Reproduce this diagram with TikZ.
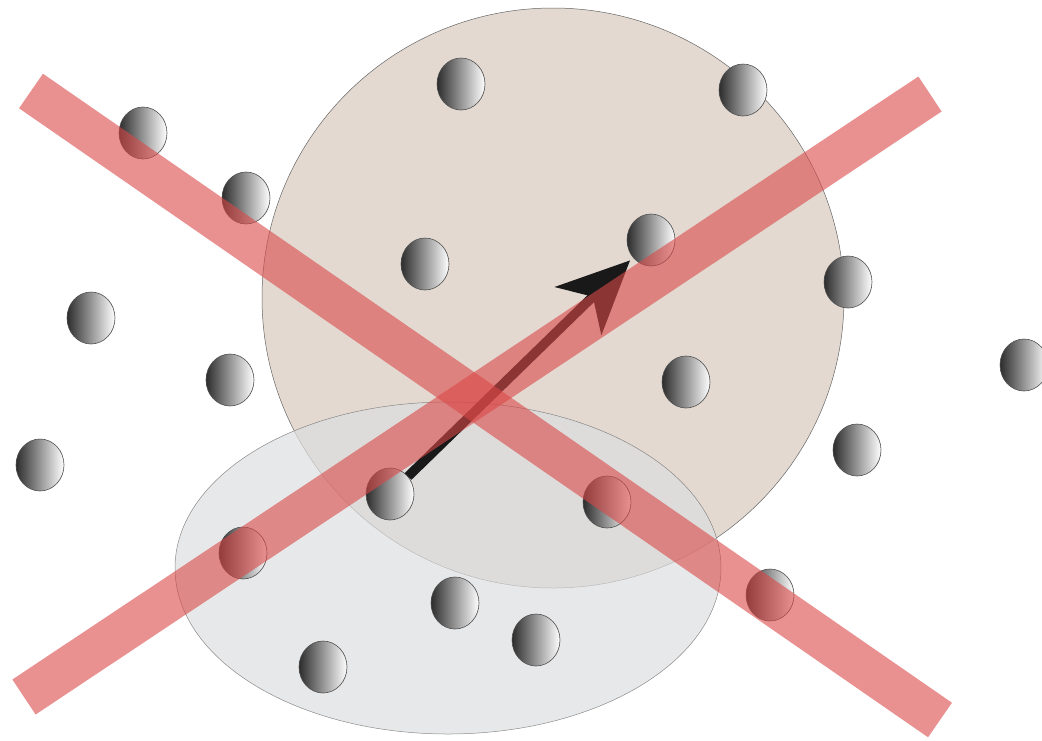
\documentclass[tikz,border=0pt]{standalone}
\usetikzlibrary{arrows.meta,shapes.geometric}
\definecolor{beige}{RGB}{227,217,209}
\definecolor{ellgray}{RGB}{221,222,223}
\definecolor{bandred}{RGB}{218,72,72}
\definecolor{ballline}{RGB}{80,80,80}
\definecolor{balldark}{RGB}{45,45,45}
\tikzset{
  ball/.style={ellipse, minimum width=48pt, minimum height=52pt, inner sep=0pt,
    draw=ballline, line width=0.6pt, left color=balldark, right color=white},
  bigdisc/.style={fill=beige, draw=black!60, line width=0.5pt},
  bigell/.style={fill=ellgray, fill opacity=0.7, draw=black!55, line width=0.5pt, draw opacity=0.8},
  band/.style={draw=bandred, draw opacity=0.6, line width=42pt, line cap=butt},
  vec/.style={draw=black!90, line width=9.5pt, -{Stealth[length=72pt,width=66pt,inset=20pt]}, shorten >=4pt}
}
\begin{document}
\begin{tikzpicture}[x=1pt,y=-1pt]
\useasboundingbox (0,0) rectangle (1042,740);
% large disc and ellipse
\path[bigdisc] (553,298) ellipse [x radius=291, y radius=290];
\path[bigell] (448,568) ellipse [x radius=273, y radius=166];
% balls
\node[ball] (b1) at (461,84) {};
\node[ball] (b2) at (743,90) {};
\node[ball] (b3) at (143,133) {};
\node[ball] (b4) at (246,198) {};
\node[ball] (b5) at (425,264) {};
\node[ball] (b6) at (651,240) {};
\node[ball] (b7) at (848,282) {};
\node[ball] (b8) at (91,318) {};
\node[ball] (b9) at (230,380) {};
\node[ball] (b10) at (686,382) {};
\node[ball] (b11) at (1024,365) {};
\node[ball] (b12) at (40,465) {};
\node[ball] (b13) at (857,450) {};
\node[ball] (b14) at (390,494) {};
\node[ball] (b15) at (607,502) {};
\node[ball] (b16) at (243,553) {};
\node[ball] (b17) at (455,603) {};
\node[ball] (b18) at (536,640) {};
\node[ball] (b19) at (770,595) {};
\node[ball] (b20) at (323,667) {};
% arrow
\draw[vec] (b14) -- (b6);
% red bands
\coordinate (p1) at (31,91);
\coordinate (p2) at (940,720);
\coordinate (q1) at (24,697);
\coordinate (q2) at (930,94);
\draw[band] (p1) -- (p2);
\draw[band] (q1) -- (q2);
\end{tikzpicture}
\end{document}
